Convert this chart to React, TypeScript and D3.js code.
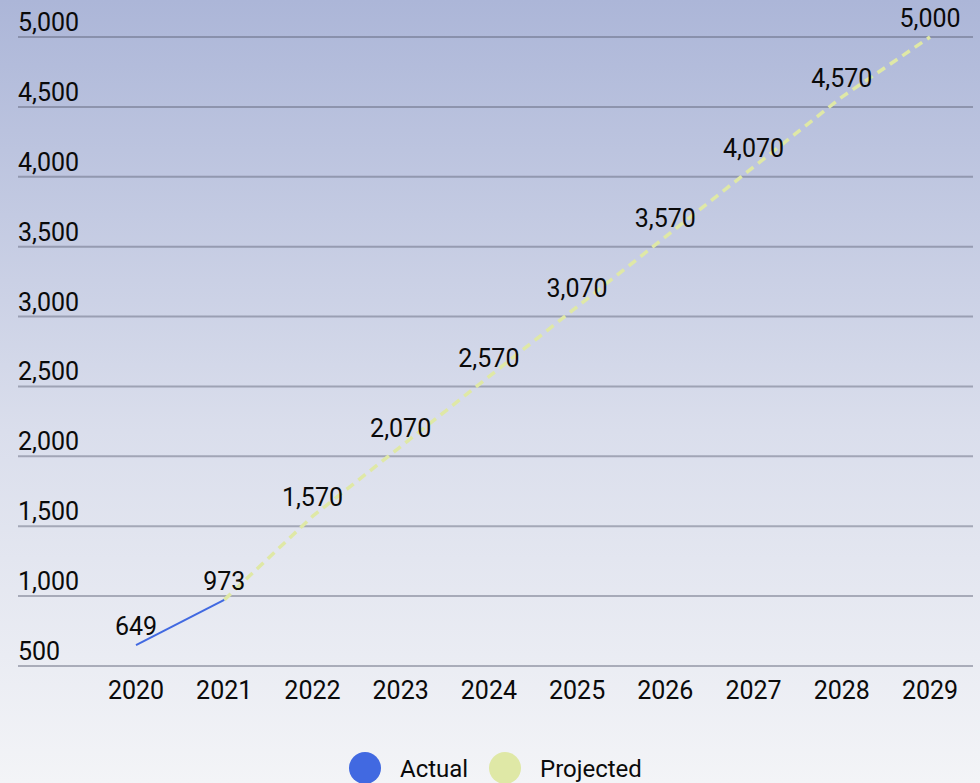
import React from "react";
import * as d3 from "d3";

const years = ["2020", "2021", "2022", "2023", "2024", "2025", "2026", "2027", "2028", "2029"];
const actualYears = ["2020", "2021"];
const actualValues = [649, 973];
const projectedYears = ["2021", "2022", "2023", "2024", "2025", "2026", "2027", "2028", "2029"];
const projectedValues = [973, 1570, 2070, 2570, 3070, 3570, 4070, 4570, 5000];
const yTicks = [500, 1000, 1500, 2000, 2500, 3000, 3500, 4000, 4500, 5000];
const legendLabels = ["Actual", "Projected"];

const W = 980;
const H = 783;
const FONT = "Roboto, 'Noto Sans', sans-serif";
const BLUE = "#4169e1";
const YELLOW = "#dfe8a6";

export default function App() {
  const x = d3.scalePoint<string>().domain(years).range([136, 930]);
  const y = d3.scaleLinear().domain([500, 5000]).range([666, 37]);
  const fmt = d3.format(",");
  const line = d3
    .line<[string, number]>()
    .x((d) => x(d[0]) as number)
    .y((d) => y(d[1]));
  const actual = actualYears.map((yr, i) => [yr, actualValues[i]] as [string, number]);
  const projected = projectedYears.map((yr, i) => [yr, projectedValues[i]] as [string, number]);
  const labels: [string, number][] = [...actual, ...projected.slice(1)];
  const legendX = [365, 505];
  const legendColors = [BLUE, YELLOW];

  return (
    <div style={{ position: "fixed", left: 0, top: 0, width: W, height: H }}>
      <svg width={W} height={H} style={{ display: "block" }}>
        <defs>
          <linearGradient id="bg" x1="0" y1="0" x2="0" y2="1">
            <stop offset="0" stopColor="#acb6d8" />
            <stop offset="0.55" stopColor="#dadeec" />
            <stop offset="1" stopColor="#f3f4f7" />
          </linearGradient>
        </defs>
        <rect x={0} y={0} width={W} height={H} fill="url(#bg)" />
        {yTicks.map((t) => (
          <g key={t}>
            <line x1={18} x2={973} y1={y(t)} y2={y(t)} stroke="rgba(90,95,115,0.45)" strokeWidth={2} />
            <text x={18} y={y(t) - 6} fontFamily={FONT} fontSize={25} fill="#0a0a0a">
              {fmt(t)}
            </text>
          </g>
        ))}
        {years.map((yr) => (
          <text key={yr} x={x(yr)} y={699} textAnchor="middle" fontFamily={FONT} fontSize={25} fill="#0a0a0a">
            {yr}
          </text>
        ))}
        <path d={line(projected) || ""} fill="none" stroke={YELLOW} strokeWidth={3.5} strokeDasharray="9 6" />
        <path d={line(actual) || ""} fill="none" stroke={BLUE} strokeWidth={2} />
        {labels.map(([yr, v]) => (
          <text key={yr} x={x(yr)} y={y(v) - 10} textAnchor="middle" fontFamily={FONT} fontSize={25} fill="#0a0a0a">
            {fmt(v)}
          </text>
        ))}
        {legendLabels.map((l, i) => (
          <g key={l}>
            <circle cx={legendX[i]} cy={768} r={16} fill={legendColors[i]} />
            <text x={legendX[i] + 35} y={777} fontFamily={FONT} fontSize={24} fill="#0a0a0a">
              {l}
            </text>
          </g>
        ))}
      </svg>
    </div>
  );
}
